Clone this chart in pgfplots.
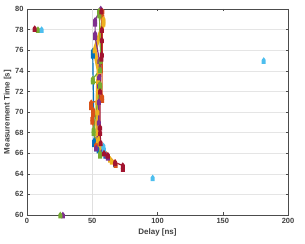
\documentclass[border=0pt]{standalone}
\usepackage{pgfplots}
\pgfplotsset{compat=1.18}
\usepackage{fontspec}
\setmainfont{Liberation Sans}
\definecolor{c1}{rgb}{0,0.447,0.741}
\definecolor{c2}{rgb}{0.85,0.325,0.098}
\definecolor{c3}{rgb}{0.929,0.694,0.125}
\definecolor{c4}{rgb}{0.494,0.184,0.556}
\definecolor{c5}{rgb}{0.466,0.674,0.188}
\definecolor{c6}{rgb}{0.301,0.745,0.933}
\definecolor{c7}{rgb}{0.635,0.078,0.184}
\pgfdeclareplotmark{house}{%
  \pgfpathmoveto{\pgfqpoint{-2bp}{-3.3bp}}%
  \pgfpathlineto{\pgfqpoint{2bp}{-3.3bp}}%
  \pgfpathlineto{\pgfqpoint{2bp}{0.6bp}}%
  \pgfpathlineto{\pgfqpoint{0bp}{3.3bp}}%
  \pgfpathlineto{\pgfqpoint{-2bp}{0.6bp}}%
  \pgfpathclose\pgfusepathqfill}
\begin{document}
\begin{tikzpicture}
\begin{axis}[
  scale only axis, width=261bp, height=206bp,
  xmin=0, xmax=200, ymin=60, ymax=80,
  xtick={0,50,100,150,200}, ytick={60,62,...,80},
  ymajorgrids, grid style={gray!20, line width=0.4pt},
  axis line style={gray!60!black, line width=0.5pt},
  tick style={gray!60!black, line width=0.4pt},
  major tick length=2.5bp, tick align=inside,
  ticklabel style={font=\fontsize{7.5}{8}\selectfont\bfseries, text=black!75},
  /pgf/number format/assume math mode=true,
  xlabel={Delay [ns]}, ylabel={Measurement Time [s]},
  label style={font=\fontsize{8}{9}\selectfont\bfseries, text=black!75},
  xlabel style={yshift=2bp}, ylabel style={yshift=-3bp},
  every axis plot/.append style={mark=house, line width=1.2pt},
  clip=false,
]
\addplot[gray!25, line width=0.5pt, mark=none] coordinates {(50,60) (50,80)};
% blue
\addplot[c1] coordinates {(50.4,75.9) (50.4,75.5) (51.5,67.2) (51.5,66.9) (53,66.5) (54.8,66.3) (60,65.8) (67.5,65.0)};
% orange
\addplot[c2] coordinates {(57.8,79.8) (57.8,79.3) (57.5,71.5) (57.5,71.2) (49.2,70.9) (49.2,70.5) (50.6,70.2) (50.6,69.8) (50,69.4) (50,69.1) (53,66.8) (58,66.1) (67.5,65.1) (68,64.9)};
% yellow
\addplot[c3, line width=4pt] coordinates {(58.6,79.0) (58.6,78.6) (51.8,76.0) (55,74) (54.5,73) (54.3,72) (54,71) (54,70) (54,69) (54,68) (54.5,67.3) (57,66.5) (60,66) (63.7,65.4) (65,65.2)};
% purple
\addplot[c4] coordinates {(56.5,80) (52.2,78.9) (52.2,78.6) (52.2,77.6) (52.2,77.3) (55.5,75) (55.3,73.4) (55.3,72.6) (55,71) (55,69) (53,66.5) (58,66.2) (61.1,65.8) (62,65.6)};
\addplot[c4, only marks] coordinates {(27.5,60.0)};
% green
\addplot[c5] coordinates {(55.3,79.8) (55.5,79.4) (56.5,75) (56,74.1) (50.4,73.2) (50.4,73.0) (56,72.7) (56,72.5) (51,68.3) (51,68.0) (56,66) (56,65.8)};
\addplot[c5, only marks] coordinates {(8.4,78.0) (25.5,60.0)};
% light blue
\addplot[c6] coordinates {(58.6,66.7) (59,66.4)};
\addplot[c6, only marks] coordinates {(11.2,78.0) (96.3,63.6) (181.4,75.0)};
% red
\addplot[c7] coordinates {(57,79.8) (57.3,78) (57.3,77) (57.3,75.6) (57,75.2) (56,72) (56,68.5) (56,68.0) (56.5,67) (59,66.0) (62,65.8) (67.5,65.1) (73.4,64.8) (73.4,64.5)};
\addplot[c7, only marks] coordinates {(5.9,78.1)};
\end{axis}
\path (current axis.south west) ++(-27bp,-29bp) rectangle ([shift={(17bp,9bp)}]current axis.north east);
\end{tikzpicture}
\end{document}
